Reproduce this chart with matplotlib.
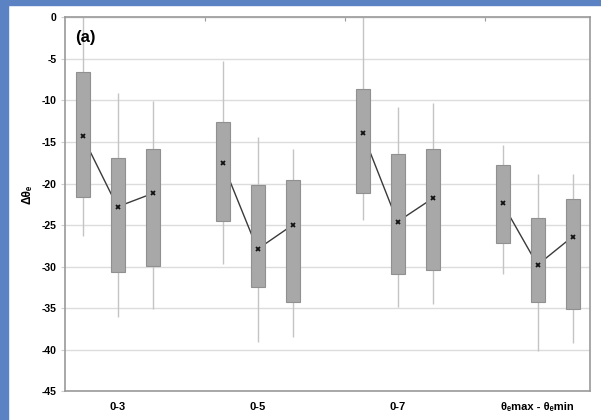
import numpy as np
import matplotlib
matplotlib.use("Agg")
import matplotlib.pyplot as plt
from matplotlib.patches import Rectangle

plt.rcParams['font.family'] = ['Liberation Sans', 'DejaVu Sans']
plt.rcParams['font.weight'] = 'bold'

#~~~~~~~~~~~~~~~~~~~~~~~~~~~~~~~~~~~~~~~~~~~~~
# data, 4 groups x 3 boxes
#~~~~~~~~~~~~~~~~~~~~~~~~~~~~~~~~~~~~~~~~~~~~~
groups = ['0-3', '0-5', '0-7', 'θₑmax - θₑmin']
whisk_hi = [[0.0, -9.1, -10.1], [-5.2, -14.4, -15.8], [0.0, -10.8, -10.3], [-15.4, -18.8, -18.8]]
box_top = [[-6.6, -16.9, -15.8], [-12.6, -20.2, -19.6], [-8.6, -16.4, -15.8], [-17.8, -24.2, -21.9]]
means = [[-14.3, -22.8, -21.2], [-17.5, -27.9, -25.0], [-13.9, -24.6, -21.8], [-22.4, -29.8, -26.4]]
box_bot = [[-21.6, -30.7, -29.9], [-24.5, -32.5, -34.3], [-21.1, -30.9, -30.4], [-27.2, -34.2, -35.1]]
whisk_lo = [[-26.3, -36.0, -35.1], [-29.7, -39.1, -38.5], [-24.4, -34.9, -34.5], [-30.9, -40.2, -39.2]]
yticks = [0, -5, -10, -15, -20, -25, -30, -35, -40, -45]

fig = plt.figure(figsize=(6.01, 4.20), dpi=100)
fig.patches.append(Rectangle((0, 0), 8/601, 1, transform=fig.transFigure, color='#5B82C2', zorder=0))
fig.patches.append(Rectangle((0, 1-5/420), 1, 5/420, transform=fig.transFigure, color='#5B82C2', zorder=0))

ax = fig.add_axes([65/601, (420-391.3)/420, 525/601, 374/420])

for g in range(len(groups)):
	xs = np.arange(3) + 4*g
	ax.plot(xs, means[g], color='#3a3a3a', lw=1.0, zorder=1)
	hi = np.array(whisk_hi[g]); lo = np.array(whisk_lo[g])
	ax.vlines(xs, lo, hi, color='#c4c4c4', lw=1.0, zorder=2)
	top = np.array(box_top[g]); bot = np.array(box_bot[g])
	ax.bar(xs, top-bot, bottom=bot, width=0.4, color='#a8a8a8', edgecolor='#909090', lw=0.8, zorder=3)
	ax.plot(xs, means[g], ls='none', marker='x', ms=3.5, mew=1.3, color='#111111', zorder=4)

ax.set_xlim(-0.5, 14.5)
ax.set_ylim(-45, 0)
ax.set_yticks(yticks)
ax.set_yticklabels([str(t) for t in yticks], fontsize=7.5, fontweight='bold')
ax.yaxis.grid(True, color='#dcdcdc', lw=1.0)
ax.set_axisbelow(True)
ax.tick_params(axis='y', length=3, color='#cfcfcf', pad=3)

ax.set_xticks([1, 5, 9, 13])
ax.set_xticklabels(groups, fontsize=8, fontweight='bold')
ax.tick_params(axis='x', length=0, pad=8)

sec = ax.secondary_xaxis('top')
sec.set_xticks([3.5, 7.5, 11.5])
sec.set_xticklabels([])
sec.tick_params(direction='in', length=3, color='#999999')
sec.spines['top'].set_color('#9a9a9a')

for s in ['left', 'right', 'bottom', 'top']:
	ax.spines[s].set_color('#9a9a9a')
	ax.spines[s].set_linewidth(1.2)

fig.text(27/601, 1-194/420, 'Δθₑ', rotation=90, ha='center', va='center', fontsize=8.5, fontweight='bold')
ax.text(0.02, 0.965, '(a)', transform=ax.transAxes, ha='left', va='top', fontsize=12, fontweight='bold')

fig.savefig('out.png', dpi=100)
